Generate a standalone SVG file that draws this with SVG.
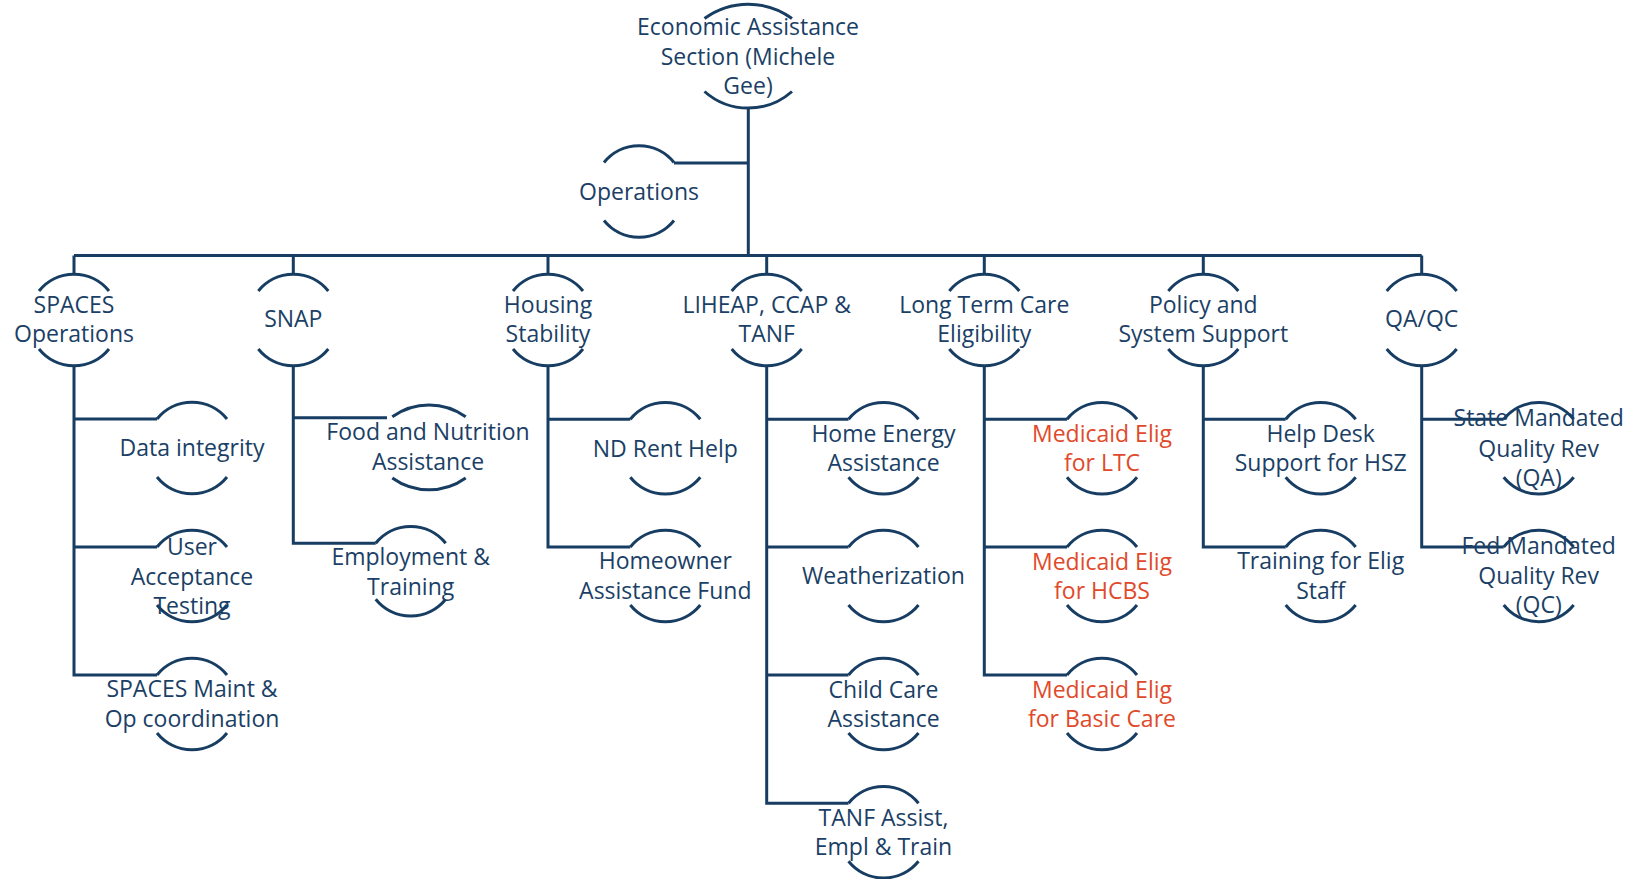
<svg xmlns="http://www.w3.org/2000/svg" width="1636" height="879" viewBox="0 0 1636 879">
<style>
.arc{fill:none;stroke:#173D63;stroke-width:3}
.ln{fill:none;stroke:#173D63;stroke-width:3;stroke-linejoin:miter}
text{font-family:"Open Sans","Noto Sans",sans-serif;font-size:23px;fill:#1B3F66;text-anchor:middle}
text.r{fill:#E04A2B}
</style>
<rect width="1636" height="879" fill="#ffffff"/>
<g id="connectors" class="ln">
<path d="M748.3 108 V255.5 M748.3 163 H674"/>
<path d="M74 255.5 H1421.7 M74 255.5 V274 M293.3 255.5 V274 M548 255.5 V274 M766.7 255.5 V274 M984.3 255.5 V274 M1203.3 255.5 V274 M1421.7 255.5 V274"/>
<path d="M74 366 V675 H157 M74 419 H157 M74 547 H157"/>
<path d="M293.3 366 V543.3 H375.7 M293.3 417.7 H387"/>
<path d="M548 366 V547 H630.3 M548 419.3 H630.3"/>
<path d="M766.7 366 V803.3 H848.5 M766.7 419.3 H848.5 M766.7 547 H848.5 M766.7 675 H848.5"/>
<path d="M984.3 366 V675 H1067 M984.3 419.3 H1067 M984.3 547 H1067"/>
<path d="M1203.3 366 V547 H1285.7 M1203.3 419.3 H1285.7"/>
<path d="M1421.7 366 V547 H1503.7 M1421.7 419.3 H1503.7"/>
</g>
<g id="root">
<path class="arc" d="M704.5 18.5 A74 74 0 0 1 792 18.5"/>
<path class="arc" d="M704.5 91.5 A66 66 0 0 0 792 91.5"/>
<text x="748" y="35">Economic Assistance</text>
<text x="748" y="65">Section (Michele</text>
<text x="748" y="94">Gee)</text>
</g>
<g id="operations">
<path class="arc" d="M604 162.5 A45 45 0 0 1 674 162.5"/>
<path class="arc" d="M604 220.5 A45 45 0 0 0 674 220.5"/>
<text x="639" y="199.5">Operations</text>
</g>
<g id="spaces-operations">
<path class="arc" d="M39 291 A45 45 0 0 1 109 291"/>
<path class="arc" d="M39 349 A45 45 0 0 0 109 349"/>
<text x="74" y="312.5">SPACES</text>
<text x="74" y="341.5">Operations</text>
</g>
<g id="snap">
<path class="arc" d="M258.3 291 A45 45 0 0 1 328.3 291"/>
<path class="arc" d="M258.3 349 A45 45 0 0 0 328.3 349"/>
<text x="293.3" y="327">SNAP</text>
</g>
<g id="housing-stability">
<path class="arc" d="M513 291 A45 45 0 0 1 583 291"/>
<path class="arc" d="M513 349 A45 45 0 0 0 583 349"/>
<text x="548" y="312.5">Housing</text>
<text x="548" y="341.5">Stability</text>
</g>
<g id="liheap">
<path class="arc" d="M731.7 291 A45 45 0 0 1 801.7 291"/>
<path class="arc" d="M731.7 349 A45 45 0 0 0 801.7 349"/>
<text x="766.7" y="312.5">LIHEAP, CCAP &amp;</text>
<text x="766.7" y="341.5">TANF</text>
</g>
<g id="long-term-care">
<path class="arc" d="M949.3 291 A45 45 0 0 1 1019.3 291"/>
<path class="arc" d="M949.3 349 A45 45 0 0 0 1019.3 349"/>
<text x="984.3" y="312.5">Long Term Care</text>
<text x="984.3" y="341.5">Eligibility</text>
</g>
<g id="policy">
<path class="arc" d="M1168.3 291 A45 45 0 0 1 1238.3 291"/>
<path class="arc" d="M1168.3 349 A45 45 0 0 0 1238.3 349"/>
<text x="1203.3" y="312.5">Policy and</text>
<text x="1203.3" y="341.5">System Support</text>
</g>
<g id="qaqc">
<path class="arc" d="M1386.7 291 A45 45 0 0 1 1456.7 291"/>
<path class="arc" d="M1386.7 349 A45 45 0 0 0 1456.7 349"/>
<text x="1421.7" y="327">QA/QC</text>
</g>
<g id="data-integrity">
<path class="arc" d="M157 419 A45 45 0 0 1 227 419"/>
<path class="arc" d="M157 477 A45 45 0 0 0 227 477"/>
<text x="192" y="456">Data integrity</text>
</g>
<g id="uat">
<path class="arc" d="M157 547 A45 45 0 0 1 227 547"/>
<path class="arc" d="M157 605 A45 45 0 0 0 227 605"/>
<text x="192" y="555">User</text>
<text x="192" y="585">Acceptance</text>
<text x="192" y="614">Testing</text>
</g>
<g id="spaces-maint">
<path class="arc" d="M157 675 A45 45 0 0 1 227 675"/>
<path class="arc" d="M157 733 A45 45 0 0 0 227 733"/>
<text x="192" y="697">SPACES Maint &amp;</text>
<text x="192" y="727">Op coordination</text>
</g>
<g id="food-nutrition">
<path class="arc" d="M392.3 416.7 A63 63 0 0 1 465.7 416.7"/>
<path class="arc" d="M392.3 478 A63 63 0 0 0 465.7 478"/>
<text x="428" y="440">Food and Nutrition</text>
<text x="428" y="470">Assistance</text>
</g>
<g id="employment-training">
<path class="arc" d="M375.7 543.3 A45 45 0 0 1 445.7 543.3"/>
<path class="arc" d="M375.7 599.3 A45 45 0 0 0 445.7 599.3"/>
<text x="410.7" y="565">Employment &amp;</text>
<text x="410.7" y="595">Training</text>
</g>
<g id="nd-rent-help">
<path class="arc" d="M630.3 419.3 A45 45 0 0 1 700.3 419.3"/>
<path class="arc" d="M630.3 477.3 A45 45 0 0 0 700.3 477.3"/>
<text x="665.3" y="456.5">ND Rent Help</text>
</g>
<g id="homeowner">
<path class="arc" d="M630.3 547 A45 45 0 0 1 700.3 547"/>
<path class="arc" d="M630.3 605 A45 45 0 0 0 700.3 605"/>
<text x="665.3" y="569">Homeowner</text>
<text x="665.3" y="598.5">Assistance Fund</text>
</g>
<g id="home-energy">
<path class="arc" d="M848.5 419.3 A45 45 0 0 1 918.5 419.3"/>
<path class="arc" d="M848.5 477.3 A45 45 0 0 0 918.5 477.3"/>
<text x="883.5" y="441.5">Home Energy</text>
<text x="883.5" y="471">Assistance</text>
</g>
<g id="weatherization">
<path class="arc" d="M848.5 547 A45 45 0 0 1 918.5 547"/>
<path class="arc" d="M848.5 605 A45 45 0 0 0 918.5 605"/>
<text x="883.5" y="584">Weatherization</text>
</g>
<g id="child-care">
<path class="arc" d="M848.5 675 A45 45 0 0 1 918.5 675"/>
<path class="arc" d="M848.5 733 A45 45 0 0 0 918.5 733"/>
<text x="883.5" y="697.5">Child Care</text>
<text x="883.5" y="727">Assistance</text>
</g>
<g id="tanf">
<path class="arc" d="M848.5 803.3 A45 45 0 0 1 918.5 803.3"/>
<path class="arc" d="M848.5 861.3 A45 45 0 0 0 918.5 861.3"/>
<text x="883.5" y="825.5">TANF Assist,</text>
<text x="883.5" y="855">Empl &amp; Train</text>
</g>
<g id="medicaid-ltc">
<path class="arc" d="M1067 419.3 A45 45 0 0 1 1137 419.3"/>
<path class="arc" d="M1067 477.3 A45 45 0 0 0 1137 477.3"/>
<text class="r" x="1102" y="441.5">Medicaid Elig</text>
<text class="r" x="1102" y="471">for LTC</text>
</g>
<g id="medicaid-hcbs">
<path class="arc" d="M1067 547 A45 45 0 0 1 1137 547"/>
<path class="arc" d="M1067 605 A45 45 0 0 0 1137 605"/>
<text class="r" x="1102" y="569.5">Medicaid Elig</text>
<text class="r" x="1102" y="599">for HCBS</text>
</g>
<g id="medicaid-basic">
<path class="arc" d="M1067 675 A45 45 0 0 1 1137 675"/>
<path class="arc" d="M1067 733 A45 45 0 0 0 1137 733"/>
<text class="r" x="1102" y="697.5">Medicaid Elig</text>
<text class="r" x="1102" y="727">for Basic Care</text>
</g>
<g id="help-desk">
<path class="arc" d="M1285.7 419.3 A45 45 0 0 1 1355.7 419.3"/>
<path class="arc" d="M1285.7 477.3 A45 45 0 0 0 1355.7 477.3"/>
<text x="1320.7" y="441.5">Help Desk</text>
<text x="1320.7" y="471">Support for HSZ</text>
</g>
<g id="training-elig">
<path class="arc" d="M1285.7 547 A45 45 0 0 1 1355.7 547"/>
<path class="arc" d="M1285.7 605 A45 45 0 0 0 1355.7 605"/>
<text x="1320.7" y="569">Training for Elig</text>
<text x="1320.7" y="598.5">Staff</text>
</g>
<g id="state-qa">
<path class="arc" d="M1503.7 419.3 A45 45 0 0 1 1573.7 419.3"/>
<path class="arc" d="M1503.7 477.3 A45 45 0 0 0 1573.7 477.3"/>
<text x="1538.7" y="426">State Mandated</text>
<text x="1538.7" y="456.5">Quality Rev</text>
<text x="1538.7" y="486">(QA)</text>
</g>
<g id="fed-qc">
<path class="arc" d="M1503.7 547 A45 45 0 0 1 1573.7 547"/>
<path class="arc" d="M1503.7 605 A45 45 0 0 0 1573.7 605"/>
<text x="1538.7" y="554">Fed Mandated</text>
<text x="1538.7" y="584">Quality Rev</text>
<text x="1538.7" y="613">(QC)</text>
</g>
</svg>
